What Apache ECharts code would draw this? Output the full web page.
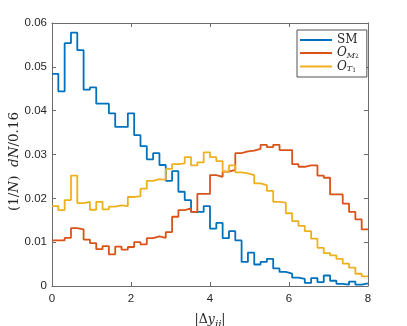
<!DOCTYPE html>
<html>
<head>
<meta charset="utf-8">
<script src="https://cdn.jsdelivr.net/npm/echarts@6.0.0/dist/echarts.min.js"></script>
<style>
  html, body { margin: 0; padding: 0; background: #fff; }
  #chart { width: 407px; height: 326px; }
</style>
</head>
<body>
<div id="chart"></div>
<script>
// histogram bins: 50 bins of width 0.16 over |dy_jj| in [0, 8]
var binWidth = 0.16;
var nBins = 50;

var smValues = [
    0.0484, 0.0444, 0.0554, 0.0578, 0.0538, 0.0448, 0.0453, 0.0416, 0.0416, 0.0394,
    0.0363, 0.0363, 0.0394, 0.0344, 0.0319, 0.0289, 0.0303, 0.0276, 0.0240, 0.0262,
    0.0215, 0.0196, 0.0169, 0.0169, 0.0182, 0.0131, 0.0144, 0.0109, 0.0125, 0.0104,
    0.0055, 0.0076, 0.0049, 0.0055, 0.0062, 0.0040, 0.0032, 0.0028, 0.0019, 0.0016,
    0.0007, 0.0018, 0.0009, 0.0024, 0.0012, 0.0005, 0.0003, 0.0010, 0.0003, 0.0006
];
var om2Values = [
    0.0104, 0.0104, 0.0110, 0.0132, 0.0129, 0.0106, 0.0098, 0.0084, 0.0091, 0.0072,
    0.0090, 0.0083, 0.0089, 0.0100, 0.0095, 0.0109, 0.0113, 0.0110, 0.0123, 0.0158,
    0.0173, 0.0177, 0.0169, 0.0210, 0.0210, 0.0253, 0.0249, 0.0261, 0.0265, 0.0303,
    0.0307, 0.0309, 0.0313, 0.0322, 0.0317, 0.0322, 0.0310, 0.0310, 0.0278, 0.0272,
    0.0275, 0.0275, 0.0252, 0.0247, 0.0209, 0.0209, 0.0188, 0.0169, 0.0152, 0.0129
];
var ot1Values = [
    0.0182, 0.0173, 0.0196, 0.0252, 0.0189, 0.0192, 0.0174, 0.0192, 0.0175, 0.0181,
    0.0184, 0.0182, 0.0203, 0.0205, 0.0222, 0.0240, 0.0244, 0.0242, 0.0267, 0.0278,
    0.0280, 0.0294, 0.0275, 0.0282, 0.0305, 0.0294, 0.0285, 0.0261, 0.0275, 0.0259,
    0.0257, 0.0253, 0.0234, 0.0230, 0.0217, 0.0192, 0.0190, 0.0166, 0.0148, 0.0137,
    0.0125, 0.0108, 0.0087, 0.0075, 0.0070, 0.0062, 0.0051, 0.0042, 0.0028, 0.0022
];

var xTicks = [0, 2, 4, 6, 8];
var yTicks = [0, 0.01, 0.02, 0.03, 0.04, 0.05, 0.06];

var seriesNames = ['SM', 'OM2', 'OT1'];
var seriesColors = ['#0072BD', '#D95319', '#EDB120'];

// left edge of every bin + closing point at the last edge
function stairs(values) {
    var pts = [];
    for (var i = 0; i < nBins; i++) {
        pts.push([+(i * binWidth).toFixed(2), values[i]]);
    }
    pts.push([+(nBins * binWidth).toFixed(2), values[nBins - 1]]);
    return pts;
}

var axisColor = '#6b6b6b';
var labelColor = '#262626';
var tickFont = 'Liberation Sans, Arial, sans-serif';
var mathFont = 'DejaVu Serif, Liberation Serif, serif';

function frameAxis(extra) {
    var base = {
        axisLine: { show: true, onZero: false, lineStyle: { color: axisColor, width: 1 } },
        axisTick: { show: true, inside: true, length: 4, lineStyle: { color: axisColor, width: 1 } },
        splitLine: { show: false },
        axisLabel: { show: false }
    };
    return Object.assign(base, extra);
}

var xMin = xTicks[0], xMax = xTicks[xTicks.length - 1];
var yMin = yTicks[0], yMax = yTicks[yTicks.length - 1];

var option = {
    animation: false,
    backgroundColor: '#fff',
    grid: { left: 52, right: 39, top: 23, bottom: 40, containLabel: false, outerBoundsMode: 'none' },
    xAxis: [
        frameAxis({
            type: 'value', position: 'bottom', min: xMin, max: xMax, interval: 2,
            axisLabel: { show: true, color: labelColor, fontFamily: tickFont, fontSize: 11.5, margin: 7 },
            name: '{r||Δ}{i|y}{s|jj}{r||}',
            nameLocation: 'middle',
            nameGap: 27,
            nameMoveOverlap: false,
            nameTextStyle: {
                rich: {
                    r: { fontFamily: mathFont, fontSize: 12.5, color: labelColor, lineHeight: 18, verticalAlign: 'top' },
                    i: { fontFamily: mathFont, fontStyle: 'italic', fontSize: 12.5, color: labelColor, lineHeight: 18, verticalAlign: 'top' },
                    s: { fontFamily: mathFont, fontStyle: 'italic', fontSize: 10.5, color: labelColor, lineHeight: 14, verticalAlign: 'bottom' }
                }
            }
        }),
        frameAxis({ type: 'value', position: 'top', min: xMin, max: xMax, interval: 2 })
    ],
    yAxis: [
        frameAxis({
            type: 'value', position: 'left', min: yMin, max: yMax, interval: 0.01,
            axisLabel: {
                show: true, color: labelColor, fontFamily: tickFont, fontSize: 11.5, margin: 5,
                formatter: function (v) { return v === 0 ? '0' : v.toFixed(2); }
            },
            // trailing blank block pushes the visible text towards the bottom
            name: '{r|(1/}{i|N}{r|)  }{i|dN}{r|/0.16}{gap|}',
            nameLocation: 'middle',
            nameGap: 31,
            nameMoveOverlap: false,
            nameTextStyle: {
                rich: {
                    r: { fontFamily: mathFont, fontSize: 13.5, color: labelColor },
                    i: { fontFamily: mathFont, fontStyle: 'italic', fontSize: 13.5, color: labelColor },
                    gap: { width: 14 }
                }
            }
        }),
        frameAxis({ type: 'value', position: 'right', min: yMin, max: yMax, interval: 0.01 })
    ],
    legend: {
        orient: 'vertical',
        left: 297,
        top: 30,
        padding: [4, 8, 4, 3],
        itemGap: 1,
        itemWidth: 32,
        itemHeight: 2,
        itemTextGap: 3,
        icon: 'rect',
        backgroundColor: '#fff',
        borderColor: '#262626',
        borderWidth: 0.8,
        data: seriesNames,
        formatter: function (name) {
            if (name === 'SM') return '{r|SM}';
            if (name === 'OM2') return '{i|O}{s|M}{ss|2}';
            return '{i|O}{s|T}{ss|1}';
        },
        textStyle: {
            rich: {
                r: { fontFamily: mathFont, fontSize: 12, color: labelColor, lineHeight: 13 },
                i: { fontFamily: mathFont, fontStyle: 'italic', fontSize: 12, color: labelColor, lineHeight: 13 },
                s: { fontFamily: mathFont, fontStyle: 'italic', fontSize: 8, color: labelColor, lineHeight: 7, verticalAlign: 'bottom' },
                ss: { fontFamily: mathFont, fontSize: 6, color: labelColor, lineHeight: 5, verticalAlign: 'bottom' }
            }
        }
    },
    series: [
        { name: seriesNames[0], data: stairs(smValues) },
        { name: seriesNames[1], data: stairs(om2Values) },
        { name: seriesNames[2], data: stairs(ot1Values) }
    ].map(function (s, i) {
        return Object.assign(s, {
            type: 'line',
            step: 'end',
            symbol: 'none',
            xAxisIndex: 0,
            yAxisIndex: 0,
            color: seriesColors[i],
            lineStyle: { color: seriesColors[i], width: 1.8 },
            emphasis: { disabled: true }
        });
    })
};

var chart = echarts.init(document.getElementById('chart'), null, { renderer: 'canvas' });
chart.setOption(option);
</script>
</body>
</html>
